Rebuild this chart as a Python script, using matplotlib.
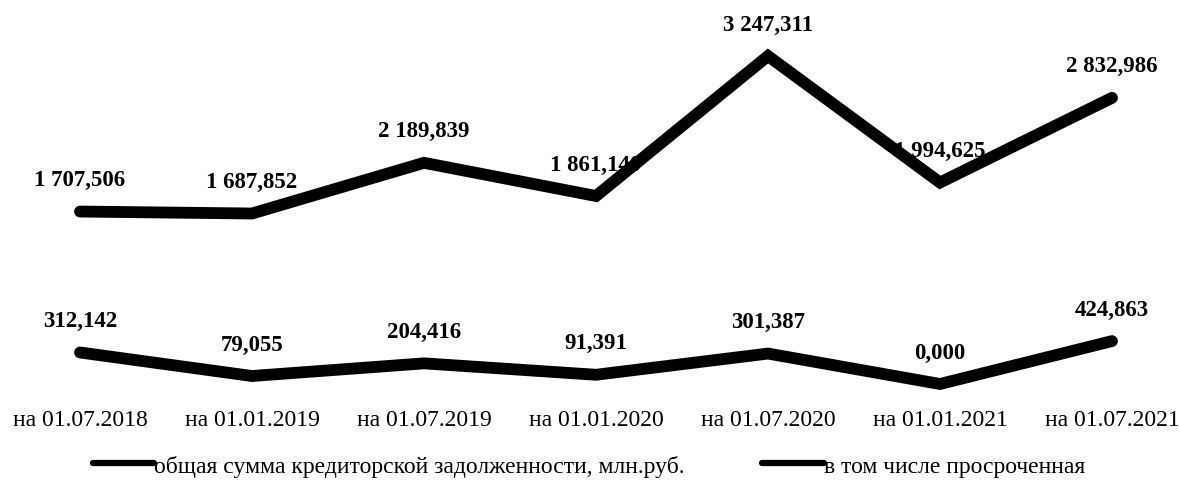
import matplotlib
matplotlib.use("Agg")
import matplotlib.pyplot as plt

categories = ["на 01.07.2018", "на 01.01.2019", "на 01.07.2019", "на 01.01.2020",
              "на 01.07.2020", "на 01.01.2021", "на 01.07.2021"]
total_debt = [1707.506, 1687.852, 2189.839, 1861.140, 3247.311, 1994.625, 2832.986]
overdue_debt = [312.142, 79.055, 204.416, 91.391, 301.387, 0.000, 424.863]
series_names = ["общая сумма кредиторской задолженности, млн.руб.", "в том числе просроченная"]


def fmt(v):
    s = f"{v:,.3f}"
    return s.replace(",", " ").replace(".", ",")


plt.rcParams['font.family'] = ['Liberation Serif', 'DejaVu Serif']

fig = plt.figure(figsize=(11.8, 4.81), dpi=100)
ax = fig.add_axes([0, 1 - 400 / 481, 1, 400 / 481])

x = list(range(len(categories)))
for vals, name in zip([total_debt, overdue_debt], series_names):
    ax.plot(x, vals, color='black', lw=8.5, solid_capstyle='round',
            solid_joinstyle='miter', label=name)
    for xi, v in zip(x, vals):
        ax.annotate(fmt(v), (xi, v), xytext=(0, 32), textcoords='offset pixels',
                    ha='center', va='center', fontsize=16.5, fontweight='bold',
                    color='black')

xmin = -80 / 172
ax.set_xlim(xmin, xmin + 1180 / 172)
scale = 328 / 3247.311
ax.set_ylim(-(400 - 385) / scale, 385 / scale)
ax.set_xticks(x)
ax.set_xticklabels(categories, fontsize=17)
ax.tick_params(axis='x', length=0, pad=7.5)
ax.set_yticks([])
for sp in ax.spines.values():
    sp.set_visible(False)

leg = fig.legend(loc='center', bbox_to_anchor=(0.499, 0.03), ncol=2, frameon=False,
                 fontsize=17, handlelength=2.6, handletextpad=0.0,
                 columnspacing=3.3, borderpad=0)
for h in leg.get_lines():
    h.set_linewidth(4.5)

fig.savefig("out.png", dpi=100)
